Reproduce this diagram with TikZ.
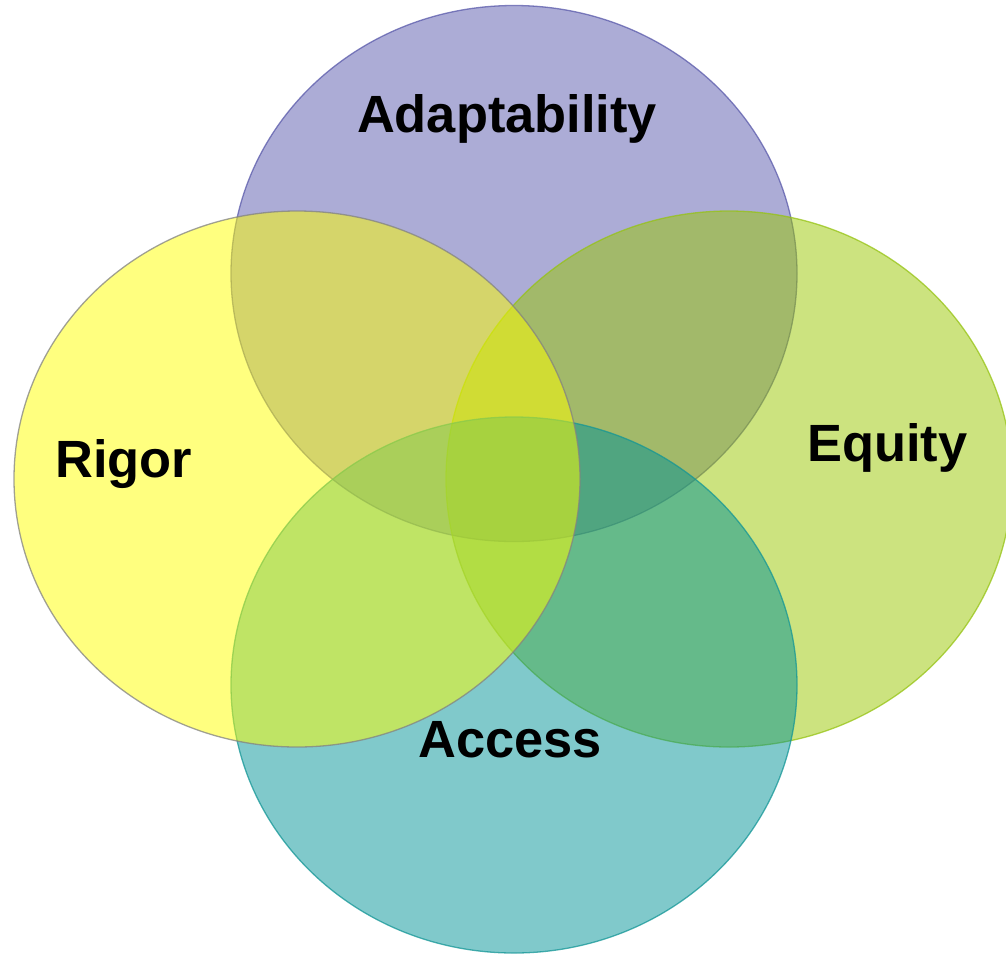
\documentclass[tikz,border=0pt]{standalone}
\usepackage{fontspec}
\setmainfont{Liberation Sans}
\begin{document}
\begin{tikzpicture}[x=1pt,y=-1pt,
  venn/.style={line width=1.3pt, fill opacity=0.5, draw opacity=0.75},
  lbl/.style={inner sep=0pt, font=\fontsize{52.4}{60}\selectfont\bfseries, text=black}]
\definecolor{cPurple}{RGB}{89,89,173}
\definecolor{cPurpleE}{RGB}{90,90,170}
\definecolor{cYellow}{RGB}{255,255,0}
\definecolor{cYellowE}{RGB}{130,130,130}
\definecolor{cEquity}{RGB}{153,199,0}
\definecolor{cEquityE}{RGB}{150,195,20}
\definecolor{cAccess}{RGB}{1,147,151}
\definecolor{cAccessE}{RGB}{20,150,150}
\useasboundingbox (0,0) rectangle (1006,954);
\clip (0,0) rectangle (1006,954);
\path[venn, fill=cPurple, draw=cPurpleE] (514,273.5) ellipse [x radius=283, y radius=268];
\path[venn, fill=cEquity, draw=cEquityE] (729,479) ellipse [x radius=283, y radius=268];
\path[venn, fill=cAccess, draw=cAccessE] (514,685) ellipse [x radius=283, y radius=268];
\path[venn, fill=cYellow, draw=cYellowE] (297,479) ellipse [x radius=283, y radius=268];
\node[lbl, anchor=base] (adapt) at (507,132) {Adaptability};
\node[lbl, anchor=base west] (rigor) at (55,477) {Rigor};
\node[lbl, anchor=base west] (equity) at (807,461) {Equity};
\node[lbl, anchor=base] (access) at (510,757) {Access};
\end{tikzpicture}
\end{document}
